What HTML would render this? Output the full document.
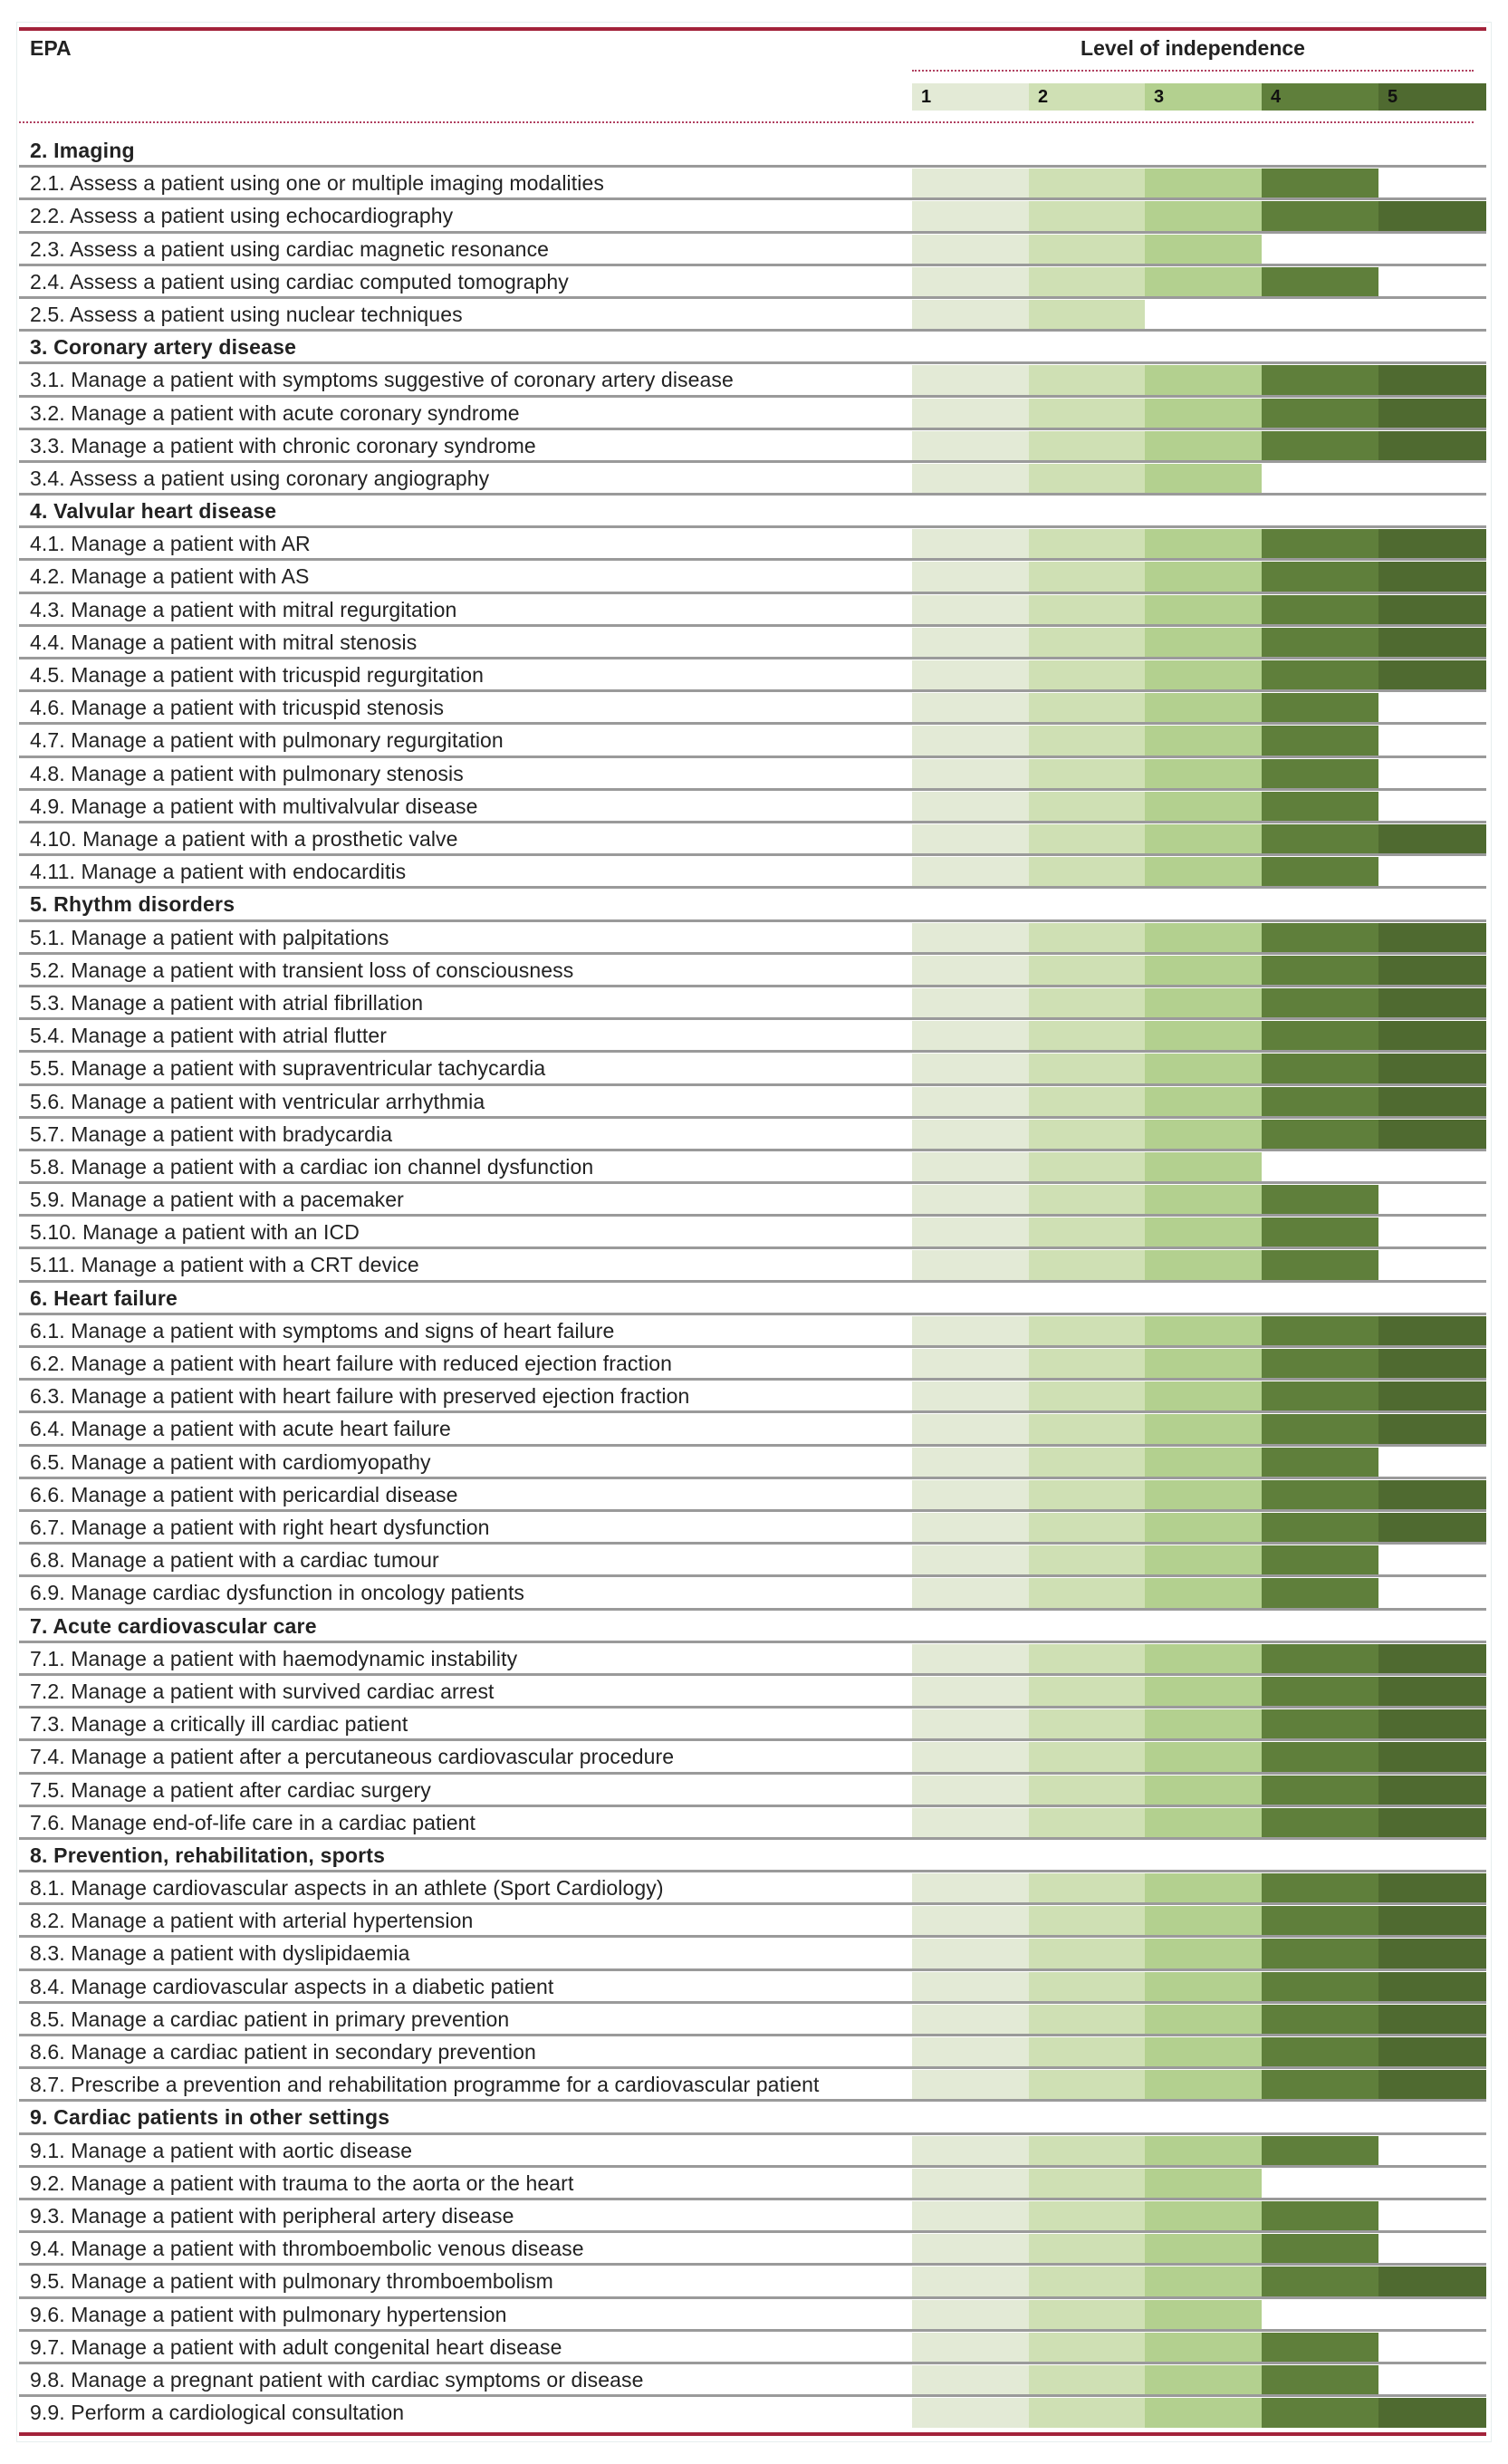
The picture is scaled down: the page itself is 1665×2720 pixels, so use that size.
<!DOCTYPE html>
<html><head><meta charset="utf-8">
<style>
html,body{margin:0;padding:0;background:#fff;}
body{width:1665px;height:2720px;position:relative;overflow:hidden;font-family:"Liberation Sans",sans-serif;color:#222;}
.abs{position:absolute;}
.row-label{position:absolute;left:33px;font-size:23px;letter-spacing:0.1px;white-space:nowrap;}
.sec{font-weight:bold;letter-spacing:0.2px;}
.line{position:absolute;left:21px;width:1620px;height:3px;background:#9a9a9a;}
.cell{position:absolute;}
</style></head>
<body>
<div class="abs" style="left:18px;top:24px;width:1627px;height:2670px;border:1px solid #e6eeee;"></div>
<div class="abs" style="left:21px;top:30px;width:1620px;height:4px;background:#a3233a;"></div>
<div class="abs" style="left:33px;top:40px;font-size:23px;font-weight:bold;">EPA</div>
<div class="abs" style="left:1007px;width:620px;text-align:center;top:40px;font-size:23px;font-weight:bold;">Level of independence</div>
<div class="abs" style="left:1007px;top:77px;width:620px;border-top:2px dotted #b04060;"></div>
<div id="levels"></div>
<div class="abs" style="left:21px;top:134px;width:1606px;border-top:2px dotted #b04060;"></div>
<div id="rows"></div>
<div class="abs" style="left:21px;top:2685px;width:1620px;height:4px;background:#a3233a;"></div>
<script>
const labels = [
"2. Imaging",
"2.1. Assess a patient using one or multiple imaging modalities",
"2.2. Assess a patient using echocardiography",
"2.3. Assess a patient using cardiac magnetic resonance",
"2.4. Assess a patient using cardiac computed tomography",
"2.5. Assess a patient using nuclear techniques",
"3. Coronary artery disease",
"3.1. Manage a patient with symptoms suggestive of coronary artery disease",
"3.2. Manage a patient with acute coronary syndrome",
"3.3. Manage a patient with chronic coronary syndrome",
"3.4. Assess a patient using coronary angiography",
"4. Valvular heart disease",
"4.1. Manage a patient with AR",
"4.2. Manage a patient with AS",
"4.3. Manage a patient with mitral regurgitation",
"4.4. Manage a patient with mitral stenosis",
"4.5. Manage a patient with tricuspid regurgitation",
"4.6. Manage a patient with tricuspid stenosis",
"4.7. Manage a patient with pulmonary regurgitation",
"4.8. Manage a patient with pulmonary stenosis",
"4.9. Manage a patient with multivalvular disease",
"4.10. Manage a patient with a prosthetic valve",
"4.11. Manage a patient with endocarditis",
"5. Rhythm disorders",
"5.1. Manage a patient with palpitations",
"5.2. Manage a patient with transient loss of consciousness",
"5.3. Manage a patient with atrial fibrillation",
"5.4. Manage a patient with atrial flutter",
"5.5. Manage a patient with supraventricular tachycardia",
"5.6. Manage a patient with ventricular arrhythmia",
"5.7. Manage a patient with bradycardia",
"5.8. Manage a patient with a cardiac ion channel dysfunction",
"5.9. Manage a patient with a pacemaker",
"5.10. Manage a patient with an ICD",
"5.11. Manage a patient with a CRT device",
"6. Heart failure",
"6.1. Manage a patient with symptoms and signs of heart failure",
"6.2. Manage a patient with heart failure with reduced ejection fraction",
"6.3. Manage a patient with heart failure with preserved ejection fraction",
"6.4. Manage a patient with acute heart failure",
"6.5. Manage a patient with cardiomyopathy",
"6.6. Manage a patient with pericardial disease",
"6.7. Manage a patient with right heart dysfunction",
"6.8. Manage a patient with a cardiac tumour",
"6.9. Manage cardiac dysfunction in oncology patients",
"7. Acute cardiovascular care",
"7.1. Manage a patient with haemodynamic instability",
"7.2. Manage a patient with survived cardiac arrest",
"7.3. Manage a critically ill cardiac patient",
"7.4. Manage a patient after a percutaneous cardiovascular procedure",
"7.5. Manage a patient after cardiac surgery",
"7.6. Manage end-of-life care in a cardiac patient",
"8. Prevention, rehabilitation, sports",
"8.1. Manage cardiovascular aspects in an athlete (Sport Cardiology)",
"8.2. Manage a patient with arterial hypertension",
"8.3. Manage a patient with dyslipidaemia",
"8.4. Manage cardiovascular aspects in a diabetic patient",
"8.5. Manage a cardiac patient in primary prevention",
"8.6. Manage a cardiac patient in secondary prevention",
"8.7. Prescribe a prevention and rehabilitation programme for a cardiovascular patient",
"9. Cardiac patients in other settings",
"9.1. Manage a patient with aortic disease",
"9.2. Manage a patient with trauma to the aorta or the heart",
"9.3. Manage a patient with peripheral artery disease",
"9.4. Manage a patient with thromboembolic venous disease",
"9.5. Manage a patient with pulmonary thromboembolism",
"9.6. Manage a patient with pulmonary hypertension",
"9.7. Manage a patient with adult congenital heart disease",
"9.8. Manage a pregnant patient with cardiac symptoms or disease",
"9.9. Perform a cardiological consultation"
];
// 0 = section header row
const levels = [
0,4,5,3,4,2,
0,5,5,5,3,
0,5,5,5,5,5,4,4,4,4,5,4,
0,5,5,5,5,5,5,5,3,4,4,4,
0,5,5,5,5,4,5,5,4,4,
0,5,5,5,5,5,5,
0,5,5,5,5,5,5,5,
0,4,3,4,4,5,3,4,4,5
];
const levelTicks = ["1","2","3","4","5"];
const colors = ["#e3ead6","#cfe0b4","#b3d08f","#5f7f3b","#4f6a30"];
const colX = [1007,1136,1264,1393,1522,1641];
const top0 = 147, rowH = 36.19;
function yPos(i){ return top0 + i*rowH; }
function xPos(level){ return colX[level]; }

const lv = document.getElementById('levels');
levelTicks.forEach((t,k)=>{
  const d=document.createElement('div');
  d.className='cell';
  
  
  d.style.left=xPos(k)+'px'; d.style.top='92px';
  d.style.width=(xPos(k+1)-xPos(k))+'px'; d.style.height='30px';
  d.style.background=colors[k];
  d.style.fontWeight='bold'; d.style.fontSize='20px';
  d.style.lineHeight='30px'; d.style.paddingLeft='10px'; d.style.boxSizing='border-box';
  d.style.color='#111';
  d.textContent=t;
  lv.appendChild(d);
});

const rows = document.getElementById('rows');
labels.forEach((lab,i)=>{
  const y=yPos(i);
  const lvl=levels[i];
  for(let k=0;k<lvl;k++){
    const c=document.createElement('div');
    c.className='cell';
    
    
    c.style.left=xPos(k)+'px'; c.style.top=(y+3)+'px';
    c.style.width=(xPos(k+1)-xPos(k))+'px'; c.style.height=(rowH-3)+'px';
    c.style.background=colors[k];
    rows.appendChild(c);
  }
  const t=document.createElement('div');
  t.className='row-label'+(lvl===0?' sec':'');
  
  
  t.style.top=(y+6)+'px';
  t.textContent=lab;
  rows.appendChild(t);
  if(i<labels.length-1){
    const l=document.createElement('div');
    l.className='line';
    
    
    l.style.top=(y+rowH-1)+'px';
    rows.appendChild(l);
  }
});
</script>
</body></html>
